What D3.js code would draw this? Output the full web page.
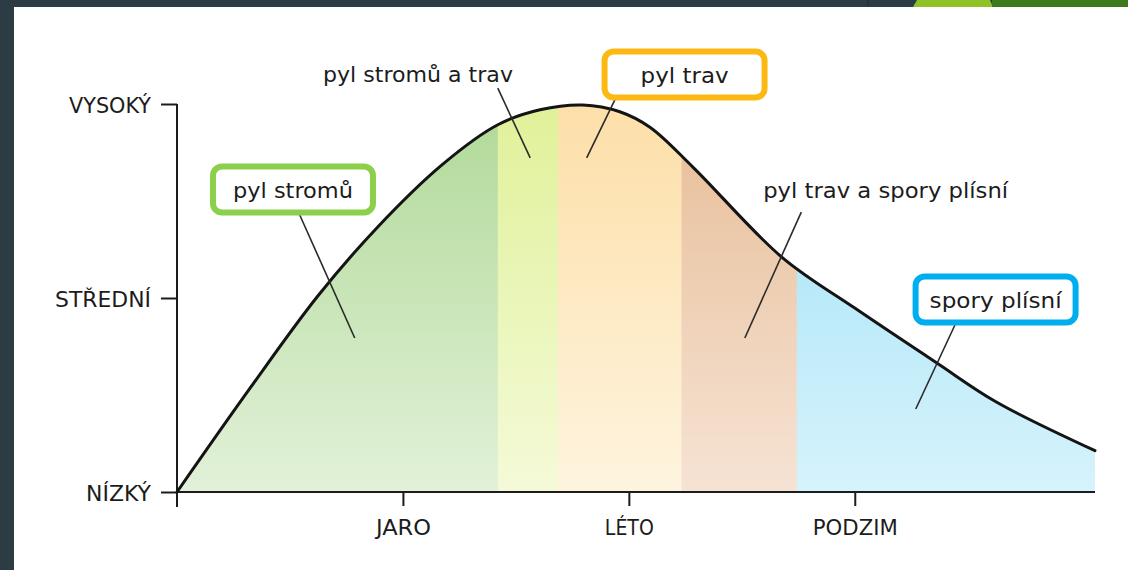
<!DOCTYPE html>
<html>
<head>
<meta charset="utf-8">
<script src="https://cdn.jsdelivr.net/npm/d3@7"></script>
<style>
  html, body { margin: 0; padding: 0; background: #fff; }
  svg { display: block; }
</style>
</head>
<body>
<svg id="chart" width="1128" height="570"></svg>
<script>
// --- data (x = months since start of year, y = level 0..2) ---
const curveMonths = [0, 0.97, 1.87, 2.65, 3.53, 4.26, 4.82, 5.39, 5.88, 6.28, 6.85, 8.03, 9.0, 10.09, 10.88, 12.19];
const curveLevels = [0, 0.535, 1.01, 1.36, 1.69, 1.893, 1.97, 1.995, 1.96, 1.88, 1.675, 1.211, 0.948, 0.665, 0.464, 0.213];

const levelValues = [0, 1, 2];
const levelLabels = ['NÍZKÝ', 'STŘEDNÍ', 'VYSOKÝ'];

const seasonMonths = [3, 6, 9];
const seasonLabels = ['JARO', 'LÉTO', 'PODZIM'];

const bandNames = ['stromy', 'stromy+travy', 'travy', 'travy+plisne', 'plisne'];
const bandStarts = [0, 4.26, 5.06, 6.70, 8.23];
const bandEnds = [4.26, 5.06, 6.70, 8.23, 12.19];

const annotationTexts = ['pyl stromů', 'pyl stromů a trav', 'pyl trav', 'pyl trav a spory plísní', 'spory plísní'];

// --- layout / styling ---
const svg = d3.select('#chart');
const W = 1128, H = 570;
const x = d3.scaleLinear().domain([0, 12.19]).range([177, 1095]);
const y = d3.scaleLinear().domain([0, 2]).range([492, 104]);

const bandTop = ['#b0d998', '#e0f199', '#fddfa8', '#e7bd97', '#a0e1f7'];
const bandBottom = ['#e2f1d8', '#f4fad8', '#fef4df', '#f6e3d4', '#d6f3fc'];

// label widths so the condensed lettering matches
const levelWidths = [65, 96, 82];
const seasonWidths = [55, 49, 85];

// annotation placement in data units (label anchor, pointer start, pointer end) and box style
const annotations = [
  { tx: 1.54, ty: 1.515, w: 120, box: '#8ccf4b', l: [1.63, 1.428, 2.36, 0.794] },
  { tx: 3.20, ty: 2.113, w: 190, box: null,      l: [4.26, 2.082, 4.69, 1.722] },
  { tx: 6.74, ty: 2.108, w: 88,  box: '#fdb913', l: [5.89, 2.082, 5.44, 1.722] },
  { tx: 9.41, ty: 1.515, w: 245, box: null,      l: [8.29, 1.443, 7.54, 0.794] },
  { tx: 10.87, ty: 0.948, w: 132, box: '#00aeef', l: [10.33, 0.861, 9.81, 0.428] }
];

const fontFamily = '"DejaVu Sans", "Liberation Sans", sans-serif';
const ink = '#1c1c1c';

// --- page frame ---
svg.append('rect').attr('width', W).attr('height', H).attr('fill', '#ffffff');
svg.append('rect').attr('x', 0).attr('y', 0).attr('width', 14).attr('height', H).attr('fill', '#2b3c45');
svg.append('rect').attr('x', 0).attr('y', 0).attr('width', W).attr('height', 7).attr('fill', '#2b3c45');
svg.append('line').attr('x1', 868).attr('x2', 868).attr('y1', 0).attr('y2', 7).attr('stroke', '#1d2a30').attr('stroke-width', 1);
svg.append('path').attr('d', 'M913,7 L917,0 L990,0 L993,7 Z').attr('fill', '#8fc226');
svg.append('rect').attr('x', 992).attr('y', 0).attr('width', W - 992).attr('height', 7).attr('fill', '#3e7a1c');

// --- gradients per band ---
const defs = svg.append('defs');
bandNames.forEach((name, i) => {
  const g = defs.append('linearGradient')
    .attr('id', 'grad' + i)
    .attr('gradientUnits', 'userSpaceOnUse')
    .attr('x1', 0).attr('x2', 0)
    .attr('y1', y(2)).attr('y2', y(0));
  g.append('stop').attr('offset', '0%').attr('stop-color', bandTop[i]);
  g.append('stop').attr('offset', '100%').attr('stop-color', bandBottom[i]);
});

const points = curveMonths.map((m, i) => [m, curveLevels[i]]);
const curveType = d3.curveCatmullRom.alpha(0.5);

const area = d3.area()
  .x(d => x(d[0]))
  .y0(y(0))
  .y1(d => y(d[1]))
  .curve(curveType);

defs.append('clipPath').attr('id', 'under-curve')
  .append('path').attr('d', area(points));

const bands = svg.append('g').attr('clip-path', 'url(#under-curve)');
bands.selectAll('rect')
  .data(bandNames)
  .join('rect')
  .attr('x', (d, i) => x(bandStarts[i]))
  .attr('width', (d, i) => x(bandEnds[i]) - x(bandStarts[i]) + (i < bandNames.length - 1 ? 0.5 : 0))
  .attr('y', y(2.1))
  .attr('height', y(0) - y(2.1))
  .attr('fill', (d, i) => `url(#grad${i})`);

// --- axes ---
const yAxis = svg.append('g')
  .attr('transform', `translate(${x(0)},0)`)
  .call(d3.axisLeft(y).tickValues(levelValues).tickFormat((d, i) => levelLabels[i]).tickSize(16).tickPadding(10));
yAxis.select('.domain').remove();
yAxis.selectAll('.tick line').attr('stroke', ink).attr('stroke-width', 2);
yAxis.selectAll('.tick text')
  .attr('fill', ink)
  .attr('dy', '0.38em')
  .attr('textLength', (d, i) => levelWidths[i])
  .attr('lengthAdjust', 'spacingAndGlyphs')
  .style('font-family', fontFamily)
  .style('font-size', '22px');

const xAxis = svg.append('g')
  .attr('transform', `translate(0,${y(0)})`)
  .call(d3.axisBottom(x).tickValues(seasonMonths).tickFormat((d, i) => seasonLabels[i]).tickSize(14));
xAxis.select('.domain').remove();
xAxis.selectAll('.tick line').attr('stroke', ink).attr('stroke-width', 2);
xAxis.selectAll('.tick text')
  .attr('fill', ink)
  .attr('y', 43)
  .attr('dy', 0)
  .attr('textLength', (d, i) => seasonWidths[i])
  .attr('lengthAdjust', 'spacingAndGlyphs')
  .style('font-family', fontFamily)
  .style('font-size', '22px');

// axis lines
svg.append('line')
  .attr('x1', x(0)).attr('x2', x(0))
  .attr('y1', y(2)).attr('y2', y(0) + 15)
  .attr('stroke', ink).attr('stroke-width', 2);
svg.append('line')
  .attr('x1', x(0) - 1).attr('x2', x(12.19))
  .attr('y1', y(0)).attr('y2', y(0))
  .attr('stroke', ink).attr('stroke-width', 2);

// --- curve ---
const line = d3.line()
  .x(d => x(d[0]))
  .y(d => y(d[1]))
  .curve(curveType);

svg.append('path')
  .attr('d', line(points))
  .attr('fill', 'none')
  .attr('stroke', '#141414')
  .attr('stroke-width', 3)
  .attr('stroke-linecap', 'round');

// --- annotations ---
const ann = svg.append('g');
annotations.forEach((a, i) => {
  ann.append('line')
    .attr('x1', x(a.l[0])).attr('y1', y(a.l[1]))
    .attr('x2', x(a.l[2])).attr('y2', y(a.l[3]))
    .attr('stroke', '#2a2a2a').attr('stroke-width', 1.6);
});
annotations.forEach((a, i) => {
  const cx = x(a.tx), by = y(a.ty);
  if (a.box) {
    ann.append('rect')
      .attr('x', cx - 80).attr('y', by - 8.5 - 23)
      .attr('width', 160).attr('height', 46)
      .attr('rx', 9)
      .attr('fill', '#ffffff')
      .attr('stroke', a.box).attr('stroke-width', 6);
  }
  ann.append('text')
    .attr('x', cx).attr('y', by)
    .attr('text-anchor', 'middle')
    .attr('fill', ink)
    .attr('textLength', a.w)
    .attr('lengthAdjust', 'spacingAndGlyphs')
    .style('font-family', fontFamily)
    .style('font-size', '21px')
    .text(annotationTexts[i]);
});
</script>
</body>
</html>
